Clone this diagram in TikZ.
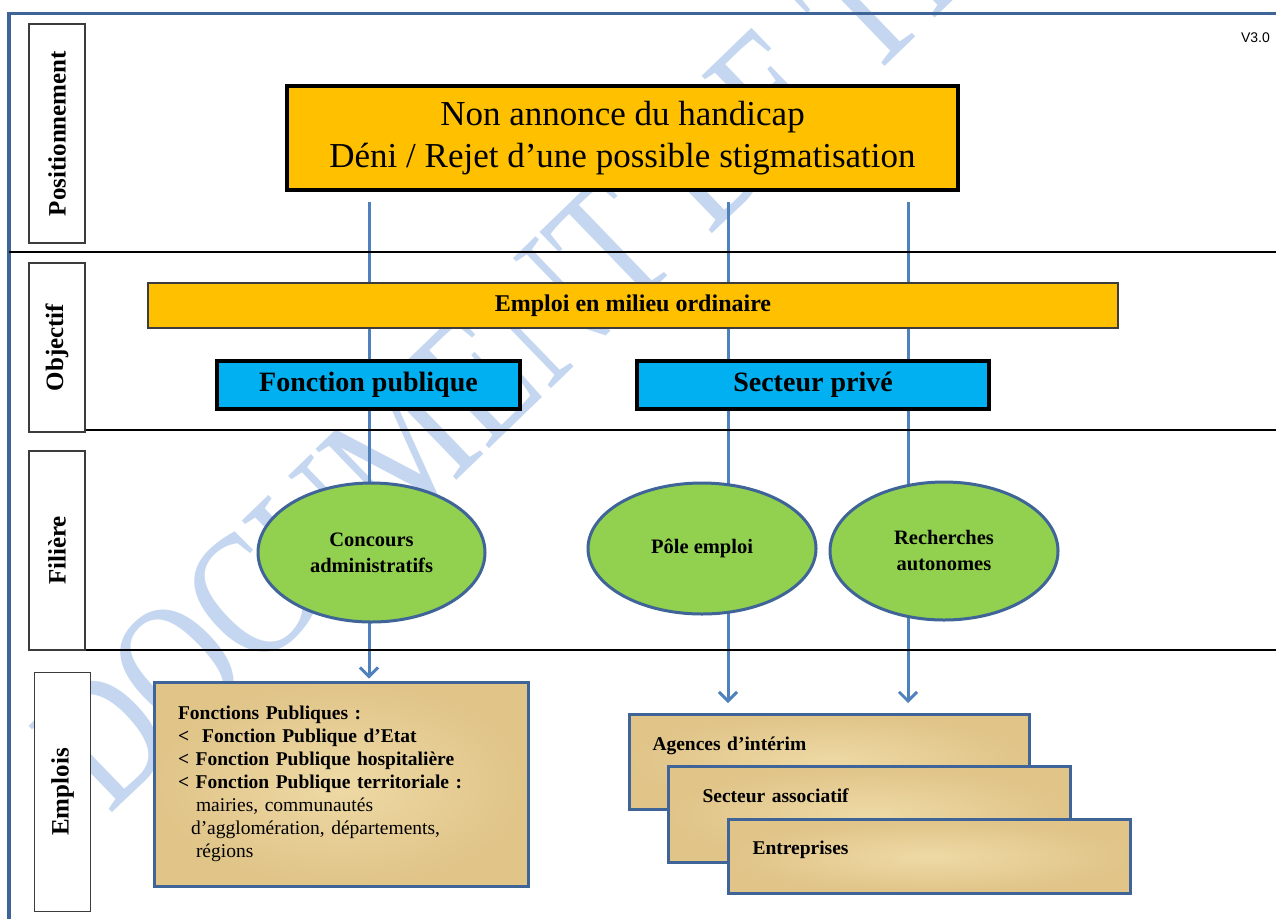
\documentclass[tikz,border=0pt]{standalone}
\usepackage{fontspec}
\setmainfont{Liberation Serif}
\newfontfamily\sansfont{Liberation Sans}
\usetikzlibrary{arrows.meta,shapes.geometric}
\definecolor{frameblue}{RGB}{62,100,152}
\definecolor{connblue}{RGB}{79,129,189}
\definecolor{ellborder}{RGB}{62,100,152}
\definecolor{leaf}{RGB}{146,208,80}
\definecolor{amber}{RGB}{255,192,0}
\definecolor{sky}{RGB}{0,176,240}
\definecolor{papyL}{RGB}{238,217,165}
\definecolor{papyD}{RGB}{224,196,136}
\definecolor{wmblue}{RGB}{196,214,240}
\definecolor{labgray}{RGB}{60,60,60}
\pgfdeclarelayer{wm}
\pgfdeclarelayer{bg}
\pgfsetlayers{wm,bg,main}
\begin{document}
\begin{tikzpicture}[x=1pt,y=-1pt,
  frame/.style={draw=frameblue,line width=3.5pt},
  sepline/.style={draw=black,line width=2.5pt},
  lab/.style={draw=labgray,line width=1.3pt,fill=white,rotate=90,inner sep=0pt,font=\bfseries\fontsize{25}{30}\selectfont},
  conn/.style={draw=connblue,line width=3pt,-{Straight Barb[length=9pt,width=18pt]}},
  topbox/.style={draw=black,line width=4pt,fill=amber,align=center,inner sep=0pt,font=\fontsize{35}{42}\selectfont},
  band/.style={draw=labgray,line width=1.3pt,fill=amber,inner sep=0pt,font=\bfseries\fontsize{24}{28}\selectfont},
  sector/.style={draw=black,line width=4pt,fill=sky,inner sep=0pt,minimum height=48pt,font=\bfseries\fontsize{28}{32}\selectfont},
  ell/.style={ellipse,draw=ellborder,line width=3pt,fill=leaf,inner sep=0pt,align=center,font=\bfseries\fontsize{20.5}{26}\selectfont},
  papy/.style={draw=frameblue,line width=3pt,inner color=papyL,outer color=papyD,inner ysep=0pt,align=left},
]
\useasboundingbox (0,0) rectangle (1276,919);
\begin{pgfonlayer}{wm}
\clip (0,0) rectangle (1276,919);
\fill[white] (0,0) rectangle (1276,919);
\node[rotate=44,anchor=base west,text=wmblue,inner sep=0pt,font=\fontsize{141}{141}\selectfont] (wmark) at (109,816) {\scalebox{1}[1.3]{DOCUMENT DE TRAVAIL}};
\end{pgfonlayer}

\draw[frame] (9,919) -- (9,13.5) -- (1276,13.5);
\draw[sepline] (9,252) -- (1276,252);
\draw[sepline] (39,430) -- (1276,430);
\draw[sepline] (39,650) -- (1276,650);

\node[lab,minimum width=219pt,minimum height=56pt] (lpos) at (57,133.5) {Positionnement};
\node[lab,minimum width=169pt,minimum height=56pt] (lobj) at (57,347.5) {Objectif};
\node[lab,minimum width=199pt,minimum height=56pt] (lfil) at (57,550.5) {Filière};
\node[lab,minimum width=239pt,minimum height=56pt] (lemp) at (62.5,792) {Emplois};

\node[font=\sansfont\fontsize{14}{16}\selectfont,anchor=east,inner sep=0pt] (ver) at (1270,38) {V3.0};

\node[topbox,minimum width=671pt,minimum height=104pt] (top) at (622.5,138) {Non annonce du handicap\\Déni / Rejet d’une possible stigmatisation};

\node[band,minimum width=970pt,minimum height=45pt] (goal) at (633,305.5) {Emploi en milieu ordinaire};
\node[sector,minimum width=303pt] (fp) at (368.5,385) {Fonction publique};
\node[sector,minimum width=352pt] (sp) at (813,385) {Secteur privé};

\node[ell,minimum width=227pt,minimum height=139pt] (conc) at (371.5,552.5) {Concours\\administratifs};
\node[ell,minimum width=228pt,minimum height=131pt] (pole) at (702,548.5) {Pôle emploi};
\node[ell,minimum width=228pt,minimum height=138pt] (rech) at (944,551) {Recherches\\autonomes};

\node[papy,minimum width=374pt,minimum height=204pt,text width=326pt,inner xsep=0pt,font=\fontsize{19.5}{23}\selectfont] (pub) at (341,784) {\textbf{Fonctions Publiques :}\\
\textbf{<\ \ Fonction Publique d’Etat}\\
\textbf{< Fonction Publique hospitalière}\\
\textbf{< Fonction Publique territoriale :}\\
\hspace*{18pt}mairies, communautés\\
\hspace*{13pt}d’agglomération, départements,\\
\hspace*{18pt}régions};

\node[papy,anchor=north west,minimum width=400pt,text width=354pt,inner xsep=23pt,text height=36pt,text depth=59pt,font=\bfseries\fontsize{19.5}{22}\selectfont] (ag) at (628,713) {Agences d’intérim};
\node[papy,anchor=north west,minimum width=402pt,text width=334pt,inner xsep=34pt,text height=36pt,text depth=60pt,font=\bfseries\fontsize{19.5}{22}\selectfont] (asso) at (667,765) {Secteur associatif};
\node[papy,anchor=north west,minimum width=402pt,text width=354pt,inner xsep=24pt,text height=35pt,text depth=39pt,font=\bfseries\fontsize{19.5}{22}\selectfont] (entr) at (727,818) {Entreprises};

\coordinate (s1) at (369,202);
\coordinate (s2) at (728,202);
\coordinate (s3) at (908,202);
\begin{pgfonlayer}{bg}
\draw[conn,shorten >=2pt] (s1) -- (s1 |- pub.north);
\draw[conn,shorten >=10pt] (s2) -- (s2 |- ag.north);
\draw[conn,shorten >=10pt] (s3) -- (s3 |- ag.north);
\end{pgfonlayer}
\end{tikzpicture}
\end{document}
